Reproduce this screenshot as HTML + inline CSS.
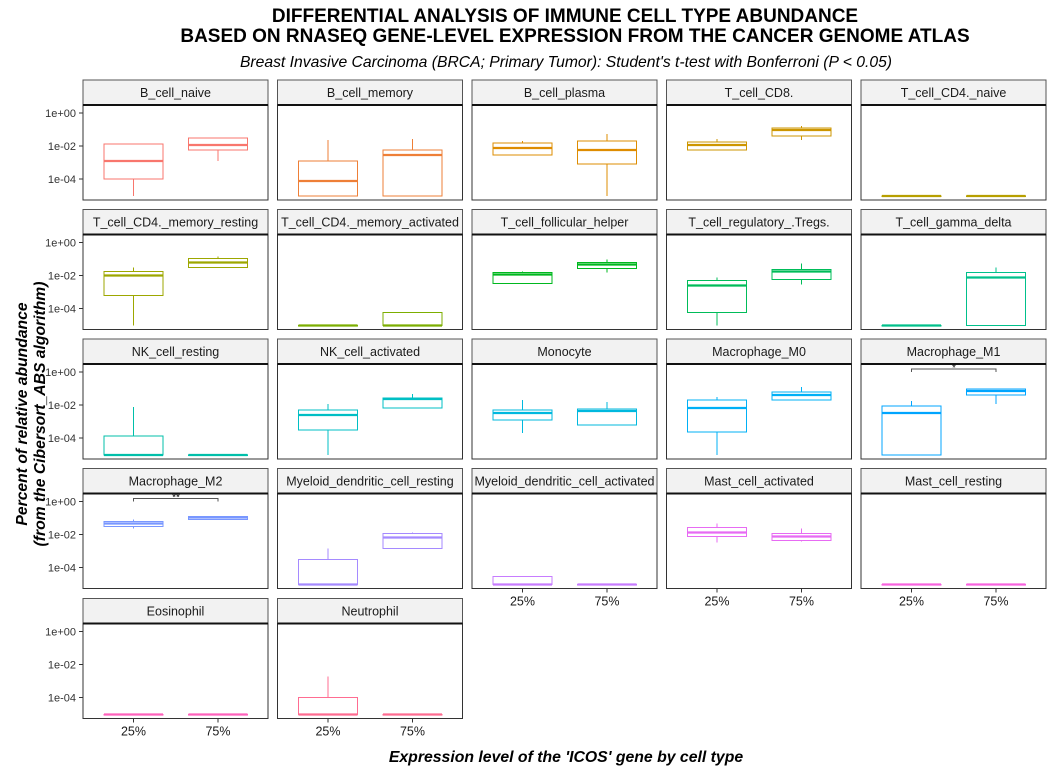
<!DOCTYPE html><html><head><meta charset="utf-8"><style>body{margin:0;background:#fff}svg{display:block}text{font-family:"Liberation Sans",sans-serif}</style></head><body>
<svg id="s" width="1056" height="768" xmlns="http://www.w3.org/2000/svg">
<text x="565" y="22" text-anchor="middle" font-size="19" font-weight="bold">DIFFERENTIAL ANALYSIS OF IMMUNE CELL TYPE ABUNDANCE</text>
<text x="575" y="42" text-anchor="middle" font-size="19" font-weight="bold">BASED ON RNASEQ GENE-LEVEL EXPRESSION FROM THE CANCER GENOME ATLAS</text>
<text x="566" y="67" text-anchor="middle" font-size="15.7" font-style="italic">Breast Invasive Carcinoma (BRCA; Primary Tumor): Student's t-test with Bonferroni (P &lt; 0.05)</text>
<text transform="translate(27,414) rotate(-90)" text-anchor="middle" font-size="15.7" font-weight="bold" font-style="italic">Percent of relative abundance</text>
<text transform="translate(45,414) rotate(-90)" text-anchor="middle" font-size="15.7" font-weight="bold" font-style="italic">(from the Cibersort_ABS algorithm)</text>
<text x="566" y="762" text-anchor="middle" font-size="15.8" font-weight="bold" font-style="italic">Expression level of the 'ICOS' gene by cell type</text>
</svg>
<script>
const P=[
["B_cell_naive","#F8766D",[91,74,56,39,39],[56,45,40,33,33]],
["B_cell_memory","#EE7F37",[91,91,76,56,35],[91,91,50,45,34]],
["B_cell_plasma","#DE8C00",[50,50,43,38,36],[91,59,45,36,29]],
["T_cell_CD8.","#CD9600",[45,45,40,37,34],[35,31,25,23,21]],
["T_cell_CD4._naive","#B79F00",[91,91,91,91,91],[91,91,91,91,91]],
["T_cell_CD4._memory_resting","#9DA700",[91,61,41,37,33],[33,33,28,24,22]],
["T_cell_CD4._memory_activated","#7CAE00",[91,91,91,91,91],[91,91,91,78,78]],
["T_cell_follicular_helper","#00B81F",[49,49,40,38,37],[38,34,30,28,25]],
["T_cell_regulatory_.Tregs.","#00BC59",[91,78,51,46,43],[50,45,37,35,29]],
["T_cell_gamma_delta","#00C08B",[91,91,91,91,91],[91,91,43,38,33]],
["NK_cell_resting","#00BFAA",[91,91,91,72,43],[91,91,91,91,91]],
["NK_cell_activated","#00BFC4",[91,66,51,46,40],[44,44,35,34,30]],
["Monocyte","#00B8DE",[69,56,49,46,36],[61,61,47,45,38]],
["Macrophage_M0","#00B0F6",[91,68,44,36,33],[36,36,31,28,23]],
["Macrophage_M1","#00A5FF",[91,91,49,42,37],[40,31,27,25,25],"*"],
["Macrophage_M2","#7997FF",[35,33,30,28,26],[26,26,24,23,23],"**"],
["Myeloid_dendritic_cell_resting","#A58AFF",[91,91,91,66,55],[55,55,44,40,39]],
["Myeloid_dendritic_cell_activated","#C77CFF",[91,91,91,83,83],[91,91,91,91,91]],
["Mast_cell_activated","#E76BF3",[49,43,39,34,30],[48,47,43,40,35]],
["Mast_cell_resting","#F863DF",[91,91,91,91,91],[91,91,91,91,91]],
["Eosinophil","#FF62BC",[91,91,91,91,91],[91,91,91,91,91]],
["Neutrophil","#FF6C91",[91,91,91,74,53],[91,91,91,91,91]]];
const X=[83,277.5,472,666.5,861],W=185,S=[80,209.5,339,468.5,598.5];
let h="";
P.forEach((p,i)=>{const c=i%5,r=Math.floor(i/5),x=X[c],y0=S[r],b=y0+25;
h+=`<rect x="${x}" y="${y0}" width="${W}" height="25" fill="#F2F2F2" stroke="#555" stroke-width="1"/>`;
h+=`<text x="${x+W/2}" y="${y0+17}" text-anchor="middle" font-size="12.5" fill="#1a1a1a">${p[0]}</text>`;
h+=`<rect x="${x}" y="${b}" width="${W}" height="95" fill="#fff" stroke="#333" stroke-width="1"/>`;
h+=`<line x1="${x}" x2="${x+W}" y1="${b}" y2="${b}" stroke="#111" stroke-width="2"/>`;
[p[2],p[3]].forEach((d,k)=>{const cx=x+(k?135:50.5),L=cx-29.5;
h+=`<line x1="${cx}" x2="${cx}" y1="${b+d[0]}" y2="${b+d[4]}" stroke="${p[1]}"/>`;
h+=`<rect x="${L}" y="${b+d[3]}" width="59" height="${Math.max(d[1]-d[3],0.5)}" fill="#fff" stroke="${p[1]}"/>`;
h+=`<line x1="${L}" x2="${L+59}" y1="${b+d[2]}" y2="${b+d[2]}" stroke="${p[1]}" stroke-width="2.2"/>`;});
if(p[4]){h+=`<path d="M${x+50.5} ${b+8}V${b+5}H${x+135}V${b+8}" fill="none" stroke="#555"/><text x="${x+93}" y="${b+7}" text-anchor="middle" font-size="10">${p[4]}</text>`;}
if(c==0){[["1e+00",8],["1e-02",41],["1e-04",74]].forEach(t=>{h+=`<line x1="79" x2="83" y1="${b+t[1]}" y2="${b+t[1]}" stroke="#333"/><text x="76" y="${b+t[1]+4}" text-anchor="end" font-size="11" fill="#333">${t[0]}</text>`;});}
if(r==4||(r==3&&c>=2)){[["25%",50.5],["75%",135]].forEach(t=>{h+=`<line x1="${x+t[1]}" x2="${x+t[1]}" y1="${b+95}" y2="${b+99}" stroke="#333"/><text x="${x+t[1]}" y="${b+112}" text-anchor="middle" font-size="12.5" fill="#1a1a1a">${t[0]}</text>`;});}
});
document.getElementById("s").insertAdjacentHTML("beforeend",h);
</script></body></html>
